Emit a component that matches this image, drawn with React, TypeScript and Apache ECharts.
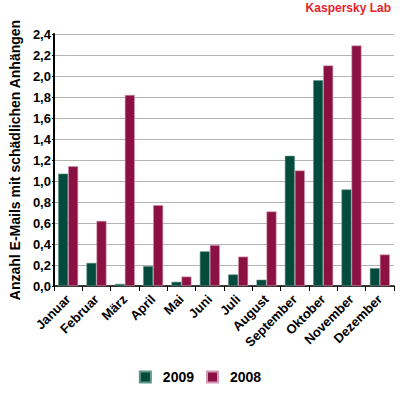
import React, { useEffect, useRef } from "react";
import * as echarts from "echarts";

const months = ["Januar", "Februar", "März", "April", "Mai", "Juni", "Juli", "August", "September", "Oktober", "November", "Dezember"];
const values2009 = [1.07, 0.22, 0.02, 0.19, 0.04, 0.33, 0.11, 0.06, 1.24, 1.96, 0.92, 0.17];
const values2008 = [1.14, 0.62, 1.82, 0.77, 0.09, 0.39, 0.28, 0.71, 1.10, 2.10, 2.29, 0.30];
const seriesNames = ["2009", "2008"];
const yAxisTitle = "Anzahl E-Mails mit schädlichen Anhängen";
const brand = "Kaspersky Lab";

const FONT = "'Liberation Sans', Arial, sans-serif";

export default function App() {
  const ref = useRef<HTMLDivElement>(null);
  useEffect(() => {
    if (!ref.current) return;
    const chart = echarts.init(ref.current, undefined, { renderer: "svg" });
    chart.setOption({
      animation: false,
      backgroundColor: "#ffffff",
      textStyle: { fontFamily: FONT },
      grid: { left: 42, right: 6, top: 34, bottom: 114, containLabel: false },
      legend: {
        bottom: 11,
        left: "center",
        itemWidth: 11,
        itemHeight: 11,
        itemGap: 12,
        icon: "rect",
        textStyle: { fontFamily: FONT, fontWeight: "bold", fontSize: 14, color: "#000", padding: [0, 0, 0, 7] },
        data: seriesNames,
      },
      graphic: [
        {
          type: "text",
          right: 9,
          top: 2,
          style: { text: brand, fill: "#e8222c", font: `bold 12px ${FONT}` },
        },
      ],
      xAxis: {
        type: "category",
        data: months,
        axisLine: { lineStyle: { color: "#000", width: 1.5 } },
        axisTick: { show: true, length: 5, lineStyle: { color: "#000", width: 1 } },
        axisLabel: {
          rotate: 45,
          interval: 0,
          margin: 11,
          color: "#000",
          fontWeight: "bold",
          fontSize: 13,
          fontFamily: FONT,
        },
      },
      yAxis: {
        type: "value",
        min: 0,
        max: 2.4,
        interval: 0.2,
        name: yAxisTitle,
        nameLocation: "middle",
        nameGap: 29,
        nameTextStyle: { color: "#000", fontWeight: "bold", fontSize: 14, fontFamily: FONT },
        axisLine: { show: true, lineStyle: { color: "#000", width: 2 } },
        axisTick: { show: true, length: 2, lineStyle: { color: "#000" } },
        splitLine: { lineStyle: { color: "#b4b4b4", width: 1 } },
        axisLabel: {
          color: "#000",
          fontWeight: "bold",
          fontSize: 13,
          fontFamily: FONT,
          margin: 3,
          formatter: (v: number) => v.toFixed(1).replace(".", ","),
        },
      },
      series: [
        {
          name: seriesNames[0],
          type: "bar",
          data: values2009,
          barWidth: 10,
          barGap: "0%",
          itemStyle: { color: "#054b3d", borderColor: "#5f9587", borderWidth: 0.6 },
        },
        {
          name: seriesNames[1],
          type: "bar",
          data: values2008,
          barWidth: 10,
          barGap: "0%",
          itemStyle: { color: "#8a1142", borderColor: "#d49ab3", borderWidth: 0.6 },
        },
      ],
    });
    return () => chart.dispose();
  }, []);
  return <div ref={ref} style={{ position: "absolute", left: 0, top: 0, width: 400, height: 400 }} />;
}
